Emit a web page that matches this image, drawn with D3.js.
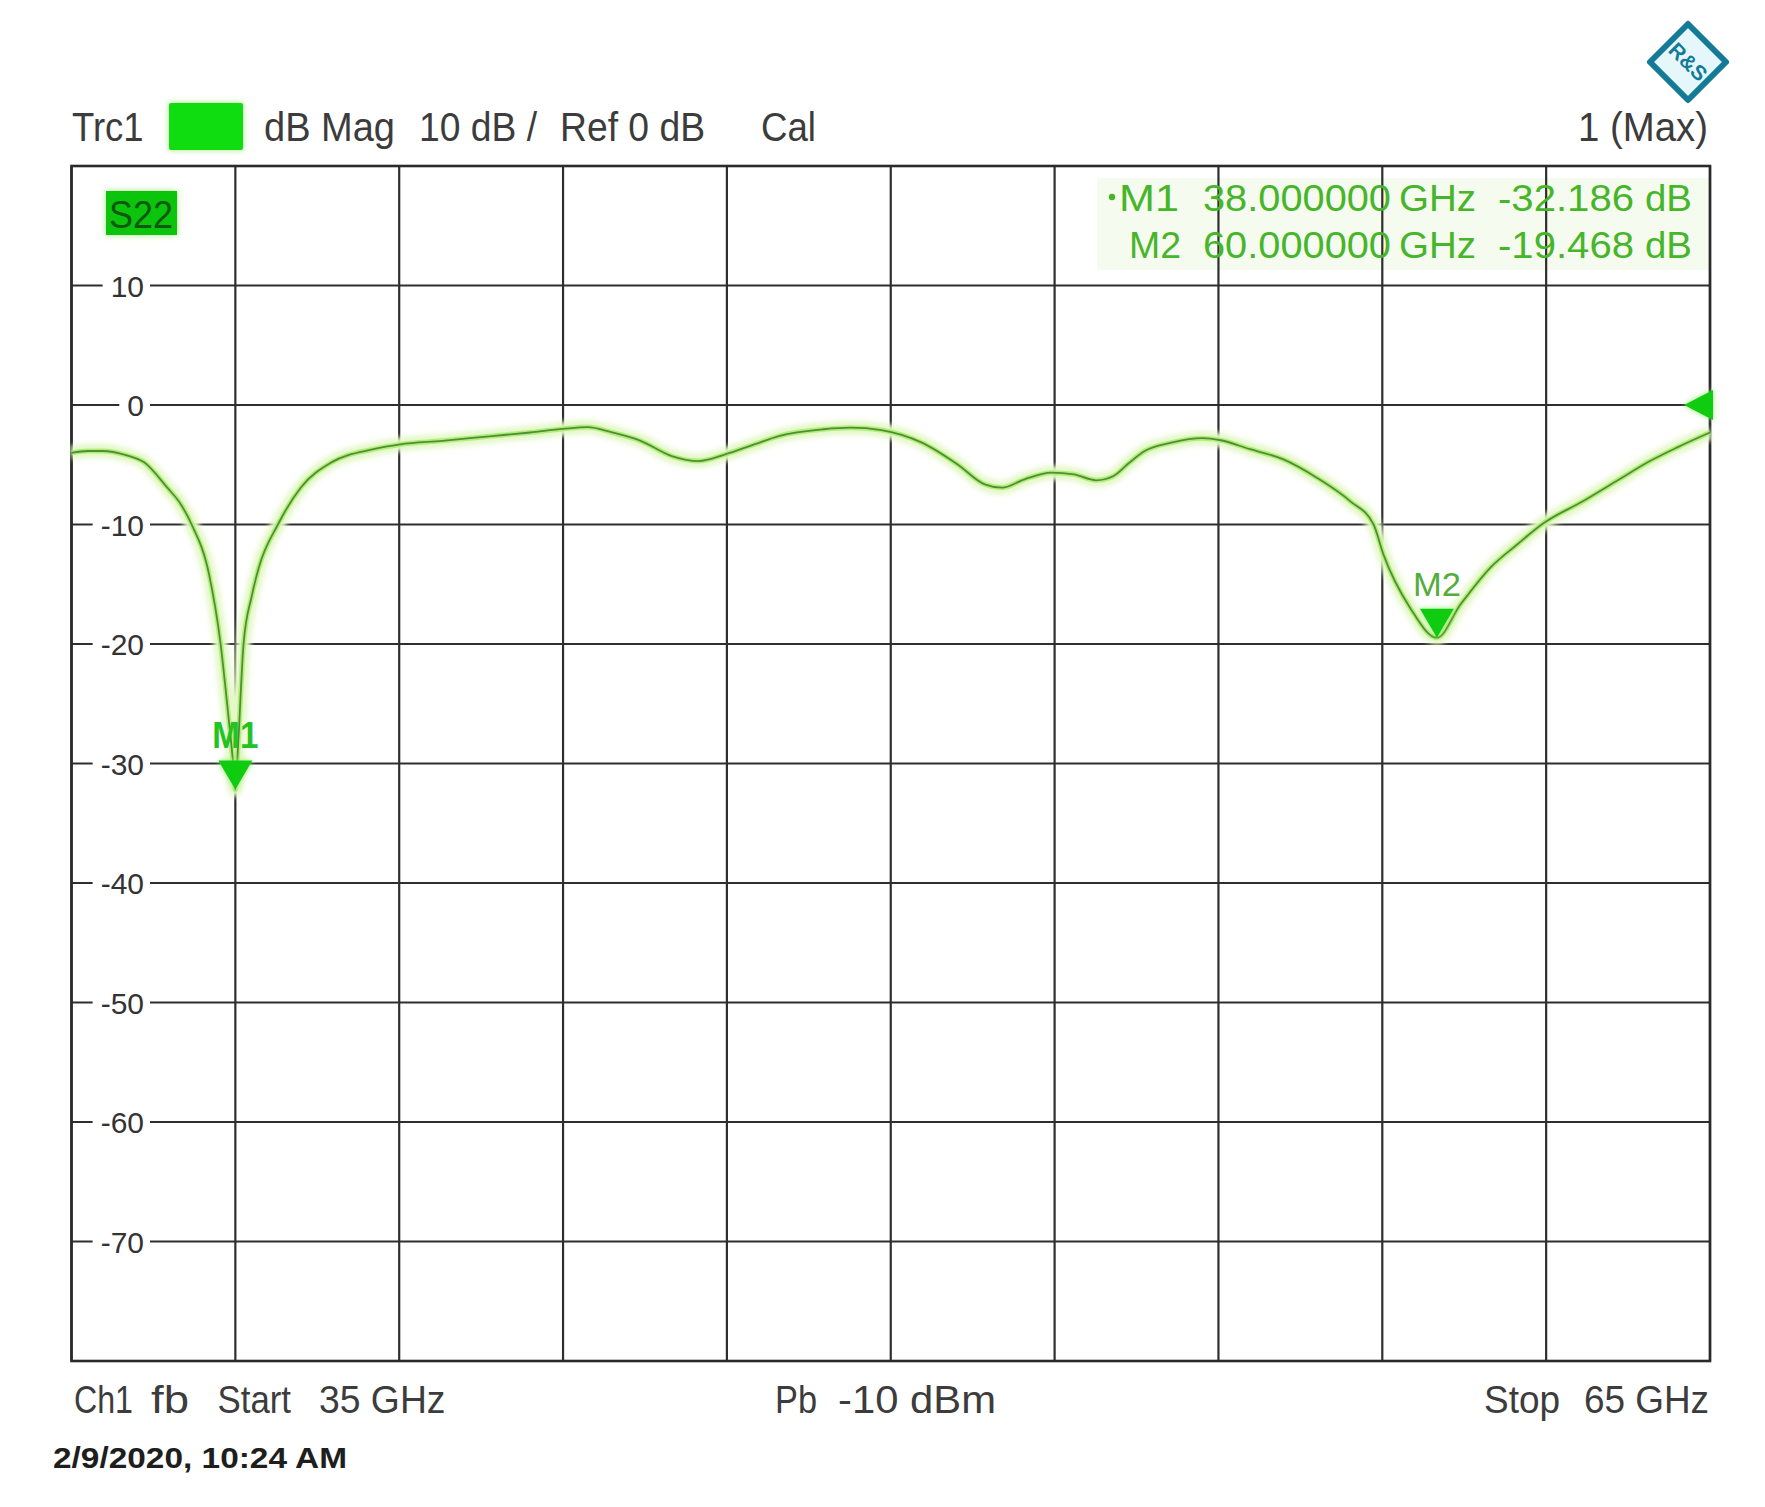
<!DOCTYPE html>
<html><head><meta charset="utf-8">
<script src="https://cdn.jsdelivr.net/npm/d3@7"></script>
<style>
html,body{margin:0;padding:0;background:#fff;}
svg{display:block;font-family:"Liberation Sans",Arial,sans-serif;}
</style></head>
<body>
<svg id="chart" width="1765" height="1507"></svg>
<script>
// ---- data ----
const freqGHz = [35.0,35.3,35.56,36.0,36.33,36.75,37.0,37.2,37.52,37.73,37.87,37.95,38.0,38.05,38.15,38.3,38.43,38.78,39.2,39.76,40.53,41.02,41.79,42.7,43.4,44.0,44.45,44.9,45.42,45.99,46.48,46.97,47.5,47.95,48.77,49.26,49.83,50.2,50.57,51.22,51.72,52.04,52.45,52.94,53.35,53.76,54.08,54.35,54.65,55.14,55.71,56.04,56.58,57.19,57.8,58.41,58.84,59.02,59.51,60.0,60.43,60.98,61.47,61.95,62.68,63.29,63.9,64.39,65.0];
const s22dB = [-4.0,-3.85,-3.85,-4.2,-4.8,-6.9,-8.3,-10,-14.2,-20,-25.9,-29.5,-32.186,-28.5,-20,-16,-13.6,-10,-6.9,-4.8,-3.7,-3.3,-3.0,-2.6,-2.3,-2.0,-1.85,-2.3,-3.0,-4.27,-4.69,-4.13,-3.3,-2.6,-2.03,-1.9,-2.1,-2.5,-3.15,-4.96,-6.64,-6.92,-6.22,-5.66,-5.8,-6.3,-5.94,-4.9,-3.85,-3.15,-2.78,-2.95,-3.7,-4.55,-6.08,-8.04,-10,-12.5,-16.98,-19.468,-16.7,-13.6,-11.67,-9.9,-8.04,-6.36,-4.69,-3.57,-2.3];
const xDomain = [35, 65];
const yDomain = [-80, 20];
const xGridTicks = [35,38,41,44,47,50,53,56,59,62,65];
const yGridTicks = [20,10,0,-10,-20,-30,-40,-50,-60,-70,-80];
const yTickLabels = [10,0,-10,-20,-30,-40,-50,-60,-70];
const markerNames = ["M1","M2"];
const markerFreq = [38.0, 60.0];
const markerVal = [-32.186, -19.468];
const refLevel = 0;

// ---- layout ----
const L = 71.5, R = 1710, T = 166, B = 1361;
const svg = d3.select("#chart");
const x = d3.scaleLinear().domain(xDomain).range([L, R]);
const y = d3.scaleLinear().domain(yDomain).range([B, T]);

const defs = svg.append("defs");
const glow = defs.append("filter").attr("id","glow").attr("x","-50%").attr("y","-50%").attr("width","200%").attr("height","200%");
glow.append("feGaussianBlur").attr("stdDeviation",3);
const soft = defs.append("filter").attr("id","soft").attr("x","-20%").attr("y","-20%").attr("width","140%").attr("height","140%");
soft.append("feGaussianBlur").attr("stdDeviation",2.5);

// marker info background tint
svg.append("rect").attr("x",1097).attr("y",178).attr("width",R-1097).attr("height",92)
  .attr("fill","#f5fbee");

// grid
const gridColor = "#2e2e2e";
svg.append("g").selectAll("line").data(xGridTicks).join("line")
  .attr("x1",d=>x(d)).attr("x2",d=>x(d)).attr("y1",T).attr("y2",B)
  .attr("stroke",gridColor).attr("stroke-width",2.2);
svg.append("g").selectAll("line").data(yGridTicks).join("line")
  .attr("x1",L).attr("x2",R).attr("y1",d=>y(d)).attr("y2",d=>y(d))
  .attr("stroke",gridColor).attr("stroke-width",2.2);
svg.append("rect").attr("x",L).attr("y",T).attr("width",R-L).attr("height",B-T)
  .attr("fill","none").attr("stroke","#2a2a2a").attr("stroke-width",2.6);

// y labels with white gaps
const yAxisG = svg.append("g");
yTickLabels.forEach(v=>{
  const g = yAxisG.append("g");
  const rect = g.append("rect").attr("fill","#fff");
  const t = g.append("text").attr("x",144).attr("y",y(v)+11).attr("text-anchor","end")
    .attr("font-size",30).attr("fill","#333").text(String(v));
  const bb = t.node().getBBox();
  rect.attr("x",bb.x-8).attr("y",y(v)-6).attr("width",bb.width+14).attr("height",12);
});

// trace
const line = d3.line().x((d,i)=>x(freqGHz[i])).y(d=>y(d)).curve(d3.curveMonotoneX);
svg.append("path").datum(s22dB).attr("d",line).attr("fill","none")
  .attr("stroke","#e4f8c8").attr("stroke-width",14).attr("stroke-linejoin","round").attr("filter","url(#soft)");
svg.append("path").datum(s22dB).attr("d",line).attr("fill","none")
  .attr("stroke","#a6ea6a").attr("stroke-width",5).attr("stroke-linejoin","round").attr("opacity",0.8);
svg.append("path").datum(s22dB).attr("d",line).attr("fill","none")
  .attr("stroke","#4f8f32").attr("stroke-width",1.8).attr("stroke-linejoin","round");

// markers
markerNames.forEach((m,i)=>{
  const cx = x(markerFreq[i]), cy = y(markerVal[i]);
  const tri = `M${cx-17},${cy-29} L${cx+17},${cy-29} L${cx},${cy} Z`;
  svg.append("path").attr("d",tri).attr("fill","#9ef07a").attr("filter","url(#glow)");
  svg.append("path").attr("d",tri).attr("fill","#10cc10");
  const bold = i===0;
  svg.append("text").attr("x",cx).attr("y",cy-42).attr("text-anchor","middle")
    .attr("font-size",bold?36:34).attr("font-weight",bold?"bold":"normal")
    .attr("fill",bold?"#22c322":"#52ad3a")
    .attr("textLength",bold?46:48).attr("lengthAdjust","spacingAndGlyphs")
    .text(m);
});

// reference level marker (right edge, pointing left)
{
  const ry = y(refLevel);
  const p = `M${R+3},${ry-15} L${R+3},${ry+15} L${R-26},${ry} Z`;
  svg.append("path").attr("d",p).attr("fill","#9ef07a").attr("filter","url(#glow)");
  svg.append("path").attr("d",p).attr("fill","#10cc10");
}

// header texts
function txt(s, x0, len, yb, size, opts={}) {
  return svg.append("text").attr("x",x0).attr("y",yb).attr("font-size",size)
    .attr("fill",opts.fill||"#3c3c3c").attr("font-weight",opts.weight||"normal")
    .attr("textLength",len).attr("lengthAdjust","spacingAndGlyphs").text(s);
}
txt("Trc1",72,71.5,141,40);
svg.append("rect").attr("x",169).attr("y",103).attr("width",74).attr("height",47)
  .attr("fill","#a0f080").attr("filter","url(#glow)");
svg.append("rect").attr("x",169).attr("y",103).attr("width",74).attr("height",47).attr("rx",2)
  .attr("fill","#10dd10");
txt("dB Mag",264,131,141,40);
txt("10 dB /",419,118,141,40);
txt("Ref 0 dB",560,145,141,40);
txt("Cal",761,55,141,40);
txt("1 (Max)",1578,130,141,40);

// S22 label box
svg.append("rect").attr("x",106).attr("y",191).attr("width",71).attr("height",44)
  .attr("fill","#a0f080").attr("filter","url(#glow)");
svg.append("rect").attr("x",106).attr("y",191).attr("width",71).attr("height",44)
  .attr("fill","#0cc40c");
txt("S22",109,64,228,38,{fill:"#0b5a10"});

// marker readout
const mcol = "#47b52a";
markerNames.forEach((m,i)=>{
  const yb = 211 + i*47;
  if(i===0){
    svg.append("circle").attr("cx",1112).attr("cy",yb-14).attr("r",3.2).attr("fill",mcol);
  }
  txt(m, i===0?1119:1129, i===0?60:52, yb, 36, {fill:mcol});
  txt(markerFreq[i].toFixed(6), 1203, 188, yb, 36, {fill:mcol});
  txt("GHz", 1399, 77, yb, 36, {fill:mcol});
  txt(markerVal[i].toFixed(3), 1498, 136, yb, 36, {fill:mcol});
  txt("dB", 1645, 47, yb, 36, {fill:mcol});
});

// footer
txt("Ch1",74,59,1413,38);
txt("fb",151,38,1413,38);
txt("Start",217.5,73.5,1413,38);
txt(xDomain[0]+" GHz",319,126.5,1413,38);
txt("Pb",775,42,1413,38);
txt("-10 dBm",838,158,1413,38);
txt("Stop",1484,76,1413,38);
txt(xDomain[1]+" GHz",1584,125,1413,38);
txt("2/9/2020, 10:24 AM",53,294,1468,30,{fill:"#1e1e1e",weight:"bold"});

// R&S logo
{
  const cx=1688, cy=62, hw=38, hh=38;
  const d = `M${cx},${cy-hh} L${cx+hw},${cy} L${cx},${cy+hh} L${cx-hw},${cy} Z`;
  svg.append("path").attr("d",d).attr("fill","#e6f7fb").attr("stroke","#137a98").attr("stroke-width",6).attr("stroke-linejoin","round");
  svg.append("text").attr("x",0).attr("y",7).attr("font-size",21).attr("font-weight","bold")
    .attr("fill","#137a98").attr("text-anchor","middle")
    .attr("transform",`translate(${cx},${cy}) rotate(45)`).text("R&S");
}
</script>
</body></html>
